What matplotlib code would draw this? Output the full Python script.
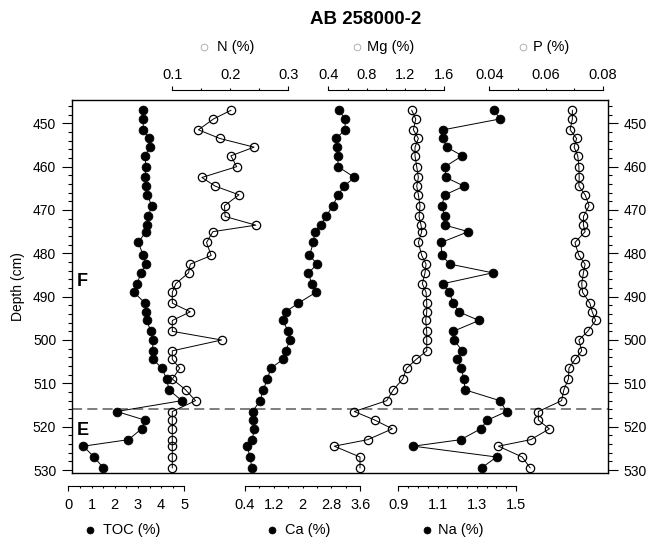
import matplotlib
matplotlib.use("Agg")
import matplotlib.pyplot as plt
import matplotlib.transforms as mtransforms
from matplotlib.lines import Line2D
from matplotlib.ticker import FixedLocator, FuncFormatter, MultipleLocator

plt.rcParams['font.family'] = ['Liberation Sans', 'DejaVu Sans']

# ---------------- data ----------------
depth = [447, 449, 451.5, 453.5, 455.5, 457.5, 460, 462.5, 464.5, 466.5,
         469, 471.5, 473.5, 475, 477.5, 480.5, 482.5, 484.5, 487, 489,
         491.5, 493.5, 495.5, 498, 500, 502.5, 504.5, 506.5, 509, 511.5,
         514, 516.5, 518.5, 520.5, 523, 524.5, 527, 529.5]

toc = [3.23, 3.23, 3.23, 3.48, 3.51, 3.31, 3.34, 3.31, 3.35, 3.41,
       3.59, 3.45, 3.38, 3.34, 3.02, 3.23, 3.35, 3.13, 2.97, 2.83,
       3.31, 3.35, 3.38, 3.56, 3.64, 3.64, 3.66, 4.03, 4.24, 4.34,
       4.89, 2.09, 3.31, 3.16, 2.59, 0.65, 1.11, 1.51]

n_pct = [0.201, 0.171, 0.145, 0.182, 0.241, 0.201, 0.211, 0.151, 0.174, 0.215,
         0.190, 0.191, 0.244, 0.170, 0.159, 0.167, 0.131, 0.128, 0.106, 0.100,
         0.100, 0.131, 0.100, 0.100, 0.185, 0.100, 0.100, 0.113, 0.100, 0.123,
         0.140, 0.100, 0.100, 0.100, 0.100, 0.100, 0.100, 0.100]

ca = [3.01, 3.18, 3.18, 2.93, 2.95, 2.97, 2.99, 3.44, 3.15, 2.99,
      2.84, 2.65, 2.50, 2.34, 2.30, 2.19, 2.41, 2.16, 2.25, 2.37,
      1.88, 1.53, 1.45, 1.60, 1.65, 1.53, 1.45, 1.12, 1.02, 0.91,
      0.82, 0.61, 0.63, 0.66, 0.60, 0.46, 0.54, 0.59]

mg = [1.266, 1.308, 1.283, 1.335, 1.300, 1.300, 1.318, 1.335, 1.318, 1.335,
      1.352, 1.342, 1.363, 1.370, 1.335, 1.370, 1.415, 1.404, 1.376, 1.415,
      1.422, 1.422, 1.411, 1.422, 1.422, 1.422, 1.311, 1.214, 1.173, 1.075,
      1.006, 0.670, 0.885, 1.065, 0.809, 0.462, 0.729, 0.729]

na = [1.389, 1.418, 1.129, 1.126, 1.147, 1.226, 1.138, 1.143, 1.235, 1.138,
      1.121, 1.138, 1.138, 1.257, 1.118, 1.121, 1.164, 1.381, 1.129, 1.160,
      1.180, 1.209, 1.311, 1.180, 1.184, 1.226, 1.201, 1.220, 1.235, 1.240,
      1.418, 1.452, 1.354, 1.320, 1.218, 0.977, 1.401, 1.325]

p_pct = [0.0693, 0.0693, 0.0685, 0.0708, 0.0699, 0.0712, 0.0716, 0.0717, 0.0716, 0.0738,
         0.0752, 0.0732, 0.0732, 0.0738, 0.0702, 0.0716, 0.0738, 0.0732, 0.0726, 0.0729,
         0.0755, 0.0763, 0.0775, 0.0747, 0.0716, 0.0726, 0.0702, 0.0681, 0.0679, 0.0663,
         0.0655, 0.0573, 0.0573, 0.0612, 0.0546, 0.0432, 0.0516, 0.0544]

boundary_depth = 516
unit_names = ['F', 'E']
unit_label_depths = [486.4, 520.8]
title = 'AB 258000-2'

# ---------------- layout (figure pixels) ----------------
W, H, DPI = 649, 545, 100
frame_l, frame_r = 71.5, 608.3
frame_t, frame_b = 100.0, 473.3
depth_top, depth_bottom = 444.62, 530.76
PT = 72.0 / DPI  # points per pixel

fig = plt.figure(figsize=(W / DPI, H / DPI), dpi=DPI)
fig.patch.set_facecolor('white')
rect = [frame_l / W, 1 - frame_b / H, (frame_r - frame_l) / W, (frame_b - frame_t) / H]
# the per-variable axes span the full figure width so that axis ends outside the frame keep their ticks
wide_rect = [0.0, rect[1], 1.0, rect[3]]

# frame with the depth axes on both sides
ax = fig.add_axes(rect)
ax.set_ylim(depth_bottom, depth_top)
ax.set_xlim(0, 1)
ax.set_xticks([])
for sp in ax.spines.values():
    sp.set_linewidth(1.0)
ax.yaxis.set_major_locator(MultipleLocator(10))
ax.yaxis.set_minor_locator(MultipleLocator(2))
ax.tick_params(axis='y', which='both', left=True, right=True,
               labelleft=True, labelright=True, labelsize=10, width=0.8,
               direction='out')
ax.tick_params(axis='y', which='major', length=7, pad=4)
ax.tick_params(axis='y', which='minor', length=3)

ax.axhline(boundary_depth, color='#6e6e6e', lw=1.25, ls=(0, (5.8, 3.0)), zorder=1)

trans = mtransforms.blended_transform_factory(ax.transAxes, ax.transData)
for name, d in zip(unit_names, unit_label_depths):
    ax.text(0.010, d, name, transform=trans, fontsize=13, fontweight='bold',
            ha='left', va='center')

# one overlaid axes per variable: (values, side, lo, hi, px_lo, px_hi, tick step, labels, filled)
variables = [
    (toc,   'bottom', 0.0,  5.0,  68.3, 184.3, 0.5,  {0: '0', 1: '1', 2: '2', 3: '3', 4: '4', 5: '5'}, True),
    (n_pct, 'top',    0.1,  0.3, 172.3, 288.3, 0.05, {0.1: '0.1', 0.2: '0.2', 0.3: '0.3'}, False),
    (ca,    'bottom', 0.4,  3.6, 245.0, 360.2, 0.4,  {0.4: '0.4', 1.2: '1.2', 2.0: '2', 2.8: '2.8', 3.6: '3.6'}, True),
    (mg,    'top',    0.4,  1.6, 328.3, 443.9, 0.2,  {0.4: '0.4', 0.8: '0.8', 1.2: '1.2', 1.6: '1.6'}, False),
    (na,    'bottom', 0.9,  1.5, 398.3, 516.0, 0.05, {0.9: '0.9', 1.1: '1.1', 1.3: '1.3', 1.5: '1.5'}, True),
    (p_pct, 'top',    0.04, 0.08, 489.3, 602.7, 0.01, {0.04: '0.04', 0.06: '0.06', 0.08: '0.08'}, False),
]

for vals, side, lo, hi, px_lo, px_hi, step, labels, filled in variables:
    scale = (hi - lo) / (px_hi - px_lo)
    xl = (lo + (0.0 - px_lo) * scale, lo + (W - px_lo) * scale)
    a = fig.add_axes(wide_rect, sharey=ax)
    a.patch.set_visible(False)
    a.set_xlim(*xl)
    a.tick_params(axis='y', which='both', left=False, right=False,
                  labelleft=False, labelright=False)
    for sp in a.spines.values():
        sp.set_visible(False)
    sp = a.spines[side]
    sp.set_visible(True)
    sp.set_linewidth(0.8)
    sp.set_bounds(lo, hi)

    nstep = int(round((hi - lo) / step))
    ticks = [round(lo + i * step, 6) for i in range(nstep + 1)]
    lab = {round(k, 6): v for k, v in labels.items()}
    fmt = FuncFormatter(lambda x, pos, lab=lab: lab.get(round(x, 6), ''))
    a.xaxis.set_major_locator(FixedLocator([ticks[0], ticks[-1]]))
    a.xaxis.set_minor_locator(FixedLocator(ticks[1:-1]))
    a.xaxis.set_major_formatter(fmt)
    a.xaxis.set_minor_formatter(fmt)
    a.xaxis.set_ticks_position(side)
    if side == 'bottom':
        sp.set_position(('outward', 12.4 * PT))
        a.tick_params(axis='x', which='both', bottom=True, top=False,
                      labelbottom=True, labeltop=False, labelsize=10.5,
                      width=0.8, direction='out')
        a.tick_params(axis='x', which='major', length=4.5 * PT, pad=8.1 * PT)
        a.tick_params(axis='x', which='minor', length=2.0 * PT, pad=10.6 * PT)
    else:
        sp.set_position(('outward', 10.0 * PT))
        a.tick_params(axis='x', which='both', bottom=False, top=True,
                      labelbottom=False, labeltop=True, labelsize=10.5,
                      width=0.8, direction='out')
        a.tick_params(axis='x', which='major', length=4.5 * PT, pad=3.2 * PT)
        a.tick_params(axis='x', which='minor', length=2.0 * PT, pad=5.7 * PT)

    if filled:
        a.plot(vals, depth, color='black', lw=0.7, marker='o', ms=6.4,
               mfc='black', mec='black', mew=0.5, clip_on=False, zorder=3)
    else:
        a.plot(vals, depth, color='black', lw=0.7, marker='o', ms=6.0,
               mfc='none', mec='black', mew=0.9, clip_on=False, zorder=3)

# titles and legends
fig.text(366 / W, 1 - 20 / H, title, fontsize=13.5, fontweight='bold',
         ha='center', va='center')
fig.text(18 / W, 1 - 286.7 / H, 'Depth (cm)', rotation=90, fontsize=10,
         ha='center', va='center')

top_legend = [(204.3, 216.7, 'N (%)'), (356.7, 366.7, 'Mg (%)'), (522.7, 533.0, 'P (%)')]
for mx, tx, txt in top_legend:
    fig.add_artist(Line2D([mx / W], [1 - 46.7 / H], transform=fig.transFigure,
                          marker='o', ms=4.8, mfc='none', mec='#b0b0b0', mew=0.7, ls='none'))
    fig.text(tx / W, 1 - 46.7 / H, txt, fontsize=10.5, ha='left', va='center')

bottom_legend = [(90.0, 102.7, 'TOC (%)'), (272.3, 285.0, 'Ca (%)'), (427.3, 438.0, 'Na (%)')]
for mx, tx, txt in bottom_legend:
    fig.add_artist(Line2D([mx / W], [1 - 530 / H], transform=fig.transFigure,
                          marker='o', ms=5.0, mfc='black', mec='black', mew=0.5, ls='none'))
    fig.text(tx / W, 1 - 530 / H, txt, fontsize=10.5, ha='left', va='center')

fig.savefig('out.png', dpi=DPI)
